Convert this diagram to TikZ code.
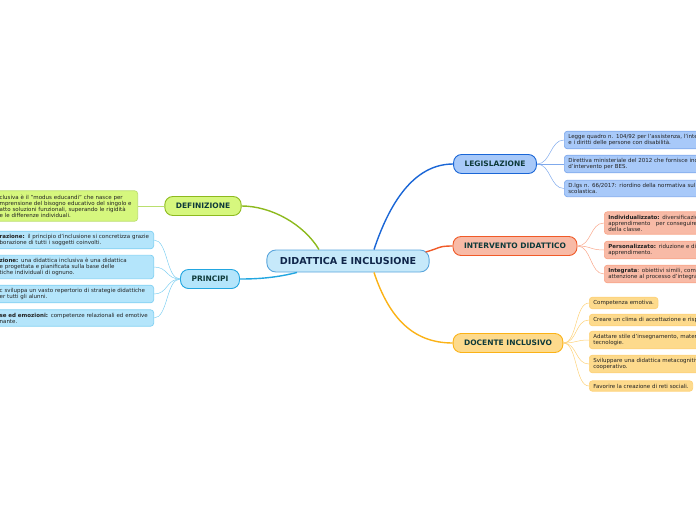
\documentclass[tikz,border=0pt]{standalone}
\usepackage{fontspec}
\setmainfont{DejaVu Sans}
\usetikzlibrary{positioning}

\definecolor{roottxt}{HTML}{10264A}
\definecolor{titletxt}{HTML}{0E3A3A}
\definecolor{leaftxt}{HTML}{222222}
\definecolor{rootfill}{HTML}{C6E9FA}
\definecolor{rootline}{HTML}{5AA5DC}
\definecolor{deffill}{HTML}{D6F77E}
\definecolor{defline}{HTML}{8DBA1E}
\definecolor{deftwig}{HTML}{BADF6E}
\definecolor{prifill}{HTML}{B4E5FB}
\definecolor{priline}{HTML}{22A6E0}
\definecolor{pritwig}{HTML}{80D0F2}
\definecolor{legfill}{HTML}{A8C9F9}
\definecolor{legline}{HTML}{1A66D6}
\definecolor{legtwig}{HTML}{7FA9EC}
\definecolor{intfill}{HTML}{F8BAA6}
\definecolor{intline}{HTML}{F05A28}
\definecolor{inttwig}{HTML}{F9A68A}
\definecolor{docfill}{HTML}{FDDA8C}
\definecolor{docline}{HTML}{FBB216}
\definecolor{doctwig}{HTML}{FDD27A}

\begin{document}
\begin{tikzpicture}[x=1pt, y=-1pt,
    mainbox/.style={draw=rootline, fill=rootfill, line width=0.9pt, rounded corners=9pt,
        minimum height=22pt, inner xsep=13pt, font=\fontsize{9.6}{11}\selectfont\bfseries, text=roottxt},
    branch/.style={line width=0.9pt, rounded corners=8pt, minimum height=19pt, inner xsep=11pt,
        font=\fontsize{7.5}{9}\selectfont\bfseries, text=titletxt},
    leaf/.style={line width=0.7pt, rounded corners=3pt, inner xsep=4pt, inner ysep=3.1pt,
        align=left, font=\fontsize{5.5}{6}\selectfont, text=leaftxt},
    link/.style={line width=1.4pt},
    twig/.style={line width=0.5pt}]
    \useasboundingbox (0,0) rectangle (696,520);
    \clip (0,0) rectangle (696,520);

    \node[mainbox] (root) at (348,261) {DIDATTICA E INCLUSIONE};

    \node[branch, draw=defline, fill=deffill] (defin) at (203,206) {DEFINIZIONE};
    \node[branch, draw=priline, fill=prifill] (princ) at (210,279) {PRINCIPI};
    \node[branch, draw=legline, fill=legfill] (legis) at (495,164) {LEGISLAZIONE};
    \node[branch, draw=intline, fill=intfill] (interv) at (515,246) {INTERVENTO DIDATTICO};
    \node[branch, draw=docline, fill=docfill] (docente) at (508,343) {DOCENTE INCLUSIVO};

    \draw[link, defline] ([xshift=-29pt]root.north) .. controls +(-15,-25) and +(30,0) .. (defin.east);
    \draw[link, priline] ([xshift=-51pt]root.south) .. controls +(-20,5) and +(20,0) .. (princ.east);
    \draw[link, legline] ([xshift=26pt]root.north) .. controls +(15,-45) and +(-40,0) .. (legis.west);
    \draw[link, intline] ([xshift=-4pt,yshift=9pt]root.east) .. controls +(15,-4) and +(-15,0) .. (interv.west);
    \draw[link, docline] ([xshift=26pt]root.south) .. controls +(15,45) and +(-40,0) .. (docente.west);

    % definizione
    \node[leaf, draw=deftwig, fill=deffill, anchor=east, text width=134pt, inner ysep=4pt] (defin1) at (138,206)
        {clusiva è il "modus educandi" che nasce per\\ mprensione del bisogno educativo del singolo e\\
         atto soluzioni funzionali, superando le rigidità\\ e le differenze individuali.};
    \draw[twig, deftwig] (defin.west) -- (defin1.east);

    % principi
    \node[leaf, draw=pritwig, fill=prifill, anchor=east, text width=150pt] (princ1) at (154,240)
        {\textbf{razione:} il principio d'inclusione si concretizza grazie\\ borazione di tutti i soggetti coinvolti.};
    \node[leaf, draw=pritwig, fill=prifill, anchor=east, text width=150pt] (princ2) at (154,267)
        {\textbf{zione:} una didattica inclusiva è una didattica\\ e progettata e pianificata sulla base delle\\ tiche individuali di ognuno.};
    \node[leaf, draw=pritwig, fill=prifill, anchor=east, text width=150pt] (princ3) at (154,294)
        {c sviluppa un vasto repertorio di strategie didattiche\\ er tutti gli alunni.};
    \node[leaf, draw=pritwig, fill=prifill, anchor=east, text width=150pt] (princ4) at (154,318)
        {\textbf{se ed emozioni:} competenze relazionali ed emotive\\ nante.};
    \foreach \n in {1,2,3,4}
        \draw[twig, pritwig] (princ.west) .. controls +(-14,0) and +(14,0) .. (princ\n.east);

    % legislazione
    \node[leaf, draw=legtwig, fill=legfill, anchor=west, text width=200pt] (legis1) at (564,140)
        {Legge quadro n. 104/92 per l'assistenza, l'inte\\ e i diritti delle persone con disabilità.};
    \node[leaf, draw=legtwig, fill=legfill, anchor=west, text width=200pt] (legis2) at (564,164)
        {Direttiva ministeriale del 2012 che fornisce ind\\ d'intervento per BES.};
    \node[leaf, draw=legtwig, fill=legfill, anchor=west, text width=200pt] (legis3) at (564,188.5)
        {D.lgs n. 66/2017: riordino della normativa sul\\ scolastica.};
    \foreach \n in {1,2,3}
        \draw[twig, legtwig] (legis.east) .. controls +(14,0) and +(-14,0) .. (legis\n.west);

    % intervento didattico
    \node[leaf, draw=inttwig, fill=intfill, anchor=west, text width=200pt] (interv1) at (604,223)
        {\textbf{Individualizzato:} diversificazio\\ apprendimento \ \ per conseguire\\ della classe.};
    \node[leaf, draw=inttwig, fill=intfill, anchor=west, text width=200pt] (interv2) at (604,250)
        {\textbf{Personalizzato:} riduzione e di\\ apprendimento.};
    \node[leaf, draw=inttwig, fill=intfill, anchor=west, text width=200pt] (interv3) at (604,274)
        {\textbf{Integrata}: obiettivi simili, com\\ attenzione al processo d'integra};
    \foreach \n in {1,2,3}
        \draw[twig, inttwig] (interv.east) .. controls +(14,0) and +(-14,0) .. (interv\n.west);

    % docente inclusivo
    \node[leaf, draw=doctwig, fill=docfill, anchor=west] (doc1) at (589,303) {Competenza emotiva.};
    \node[leaf, draw=doctwig, fill=docfill, anchor=west, text width=200pt] (doc2) at (589,320)
        {Creare un clima di accettazione e risp};
    \node[leaf, draw=doctwig, fill=docfill, anchor=west, text width=200pt] (doc3) at (589,340)
        {Adattare stile d'insegnamento, mater\\ tecnologie.};
    \node[leaf, draw=doctwig, fill=docfill, anchor=west, text width=200pt] (doc4) at (589,364)
        {Sviluppare una didattica metacognitiv\\ cooperativo.};
    \node[leaf, draw=doctwig, fill=docfill, anchor=west] (doc5) at (589,386) {Favorire la creazione di reti sociali.};
    \foreach \n in {1,...,5}
        \draw[twig, doctwig] (docente.east) .. controls +(14,0) and +(-14,0) .. (doc\n.west);
\end{tikzpicture}
\end{document}
